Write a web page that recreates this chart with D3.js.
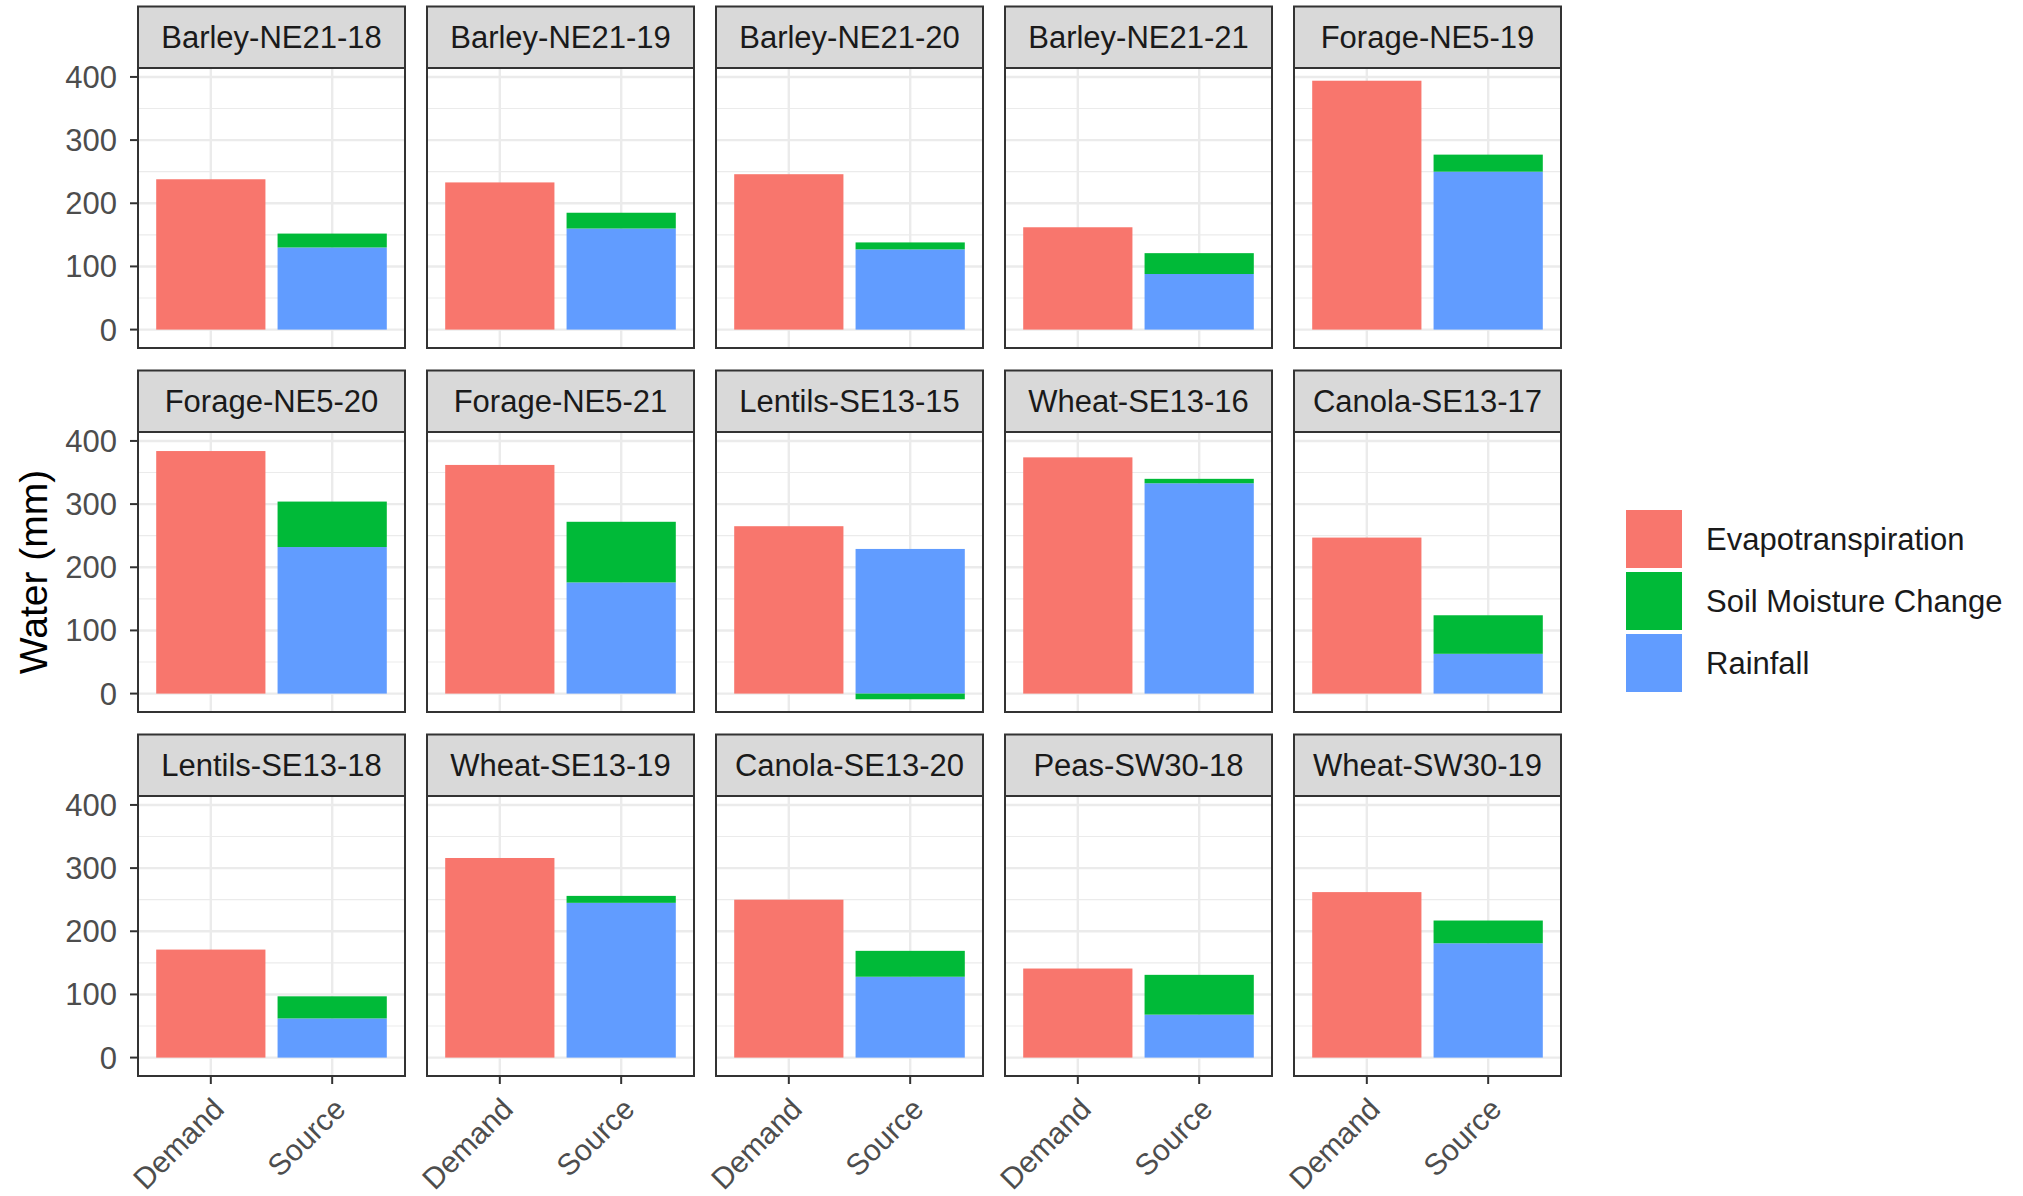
<!DOCTYPE html>
<html>
<head>
<meta charset="utf-8">
<script src="https://cdn.jsdelivr.net/npm/d3@7"></script>
<style>
  html, body { margin: 0; padding: 0; background: #fff; }
  svg { display: block; font-family: "Liberation Sans", Arial, sans-serif; }
</style>
</head>
<body>
<svg id="chart" width="2023" height="1196"></svg>
<script>
// Site-season facets, in facet_wrap order (5 columns x 3 rows)
const facets = [
  "Barley-NE21-18", "Barley-NE21-19", "Barley-NE21-20", "Barley-NE21-21", "Forage-NE5-19",
  "Forage-NE5-20", "Forage-NE5-21", "Lentils-SE13-15", "Wheat-SE13-16", "Canola-SE13-17",
  "Lentils-SE13-18", "Wheat-SE13-19", "Canola-SE13-20", "Peas-SW30-18", "Wheat-SW30-19"
];
// Water demand (mm)
const evapotranspiration = [238, 233, 246, 162, 394, 384, 362, 265, 374, 247, 171, 316, 250, 141, 262];
// Water sources (mm)
const rainfall          = [130, 160, 127,  88, 250, 232, 176, 229, 333,  63,  62, 245, 128,  68, 181];
const soilMoistureChange = [22,  25,  11,  33,  27,  72,  96,  -9,   7,  61,  35,  11,  41,  63,  36];

const xCategories = ["Demand", "Source"];
const seriesNames = ["Evapotranspiration", "Soil Moisture Change", "Rainfall"];
const seriesColors = ["#F8766D", "#00BA38", "#619CFF"];
const yTicks = [0, 100, 200, 300, 400];
const yMinorTicks = [50, 150, 250, 350];
const yTitle = "Water (mm)";

// ---- layout ----
const nCols = 5;
const panelW = 267, panelH = 280;
const colStep = 289, rowStep = 364;
const left0 = 138, top0 = 6.5;
const stripH = 61.5;

const svg = d3.select("#chart");
const color = d3.scaleOrdinal().domain(seriesNames).range(seriesColors);

// shared y limits with 5% expansion on each side
const allVals = [];
facets.forEach((f, i) => {
  allVals.push(evapotranspiration[i]);
  allVals.push(rainfall[i] + Math.max(0, soilMoistureChange[i]));
  allVals.push(Math.min(0, soilMoistureChange[i]));
  allVals.push(0);
});
const yLo = d3.min(allVals), yHi = d3.max(allVals);
const pad = (yHi - yLo) * 0.05;

// discrete x: 0.6 units of expansion on each side of the 2 categories
const xScale = d3.scalePoint().domain(xCategories).range([0.6 / 2.2 * panelW, 1.6 / 2.2 * panelW]);
const barW = 0.9 / 2.2 * panelW;

const grey20 = "#333333";

facets.forEach((name, i) => {
  const col = i % nCols, row = Math.floor(i / nCols);
  const px = left0 + col * colStep;
  const stripTop = top0 + row * rowStep;
  const py = stripTop + stripH;
  const nRows = Math.ceil(facets.length / nCols);

  const y = d3.scaleLinear().domain([yLo - pad, yHi + pad]).range([panelH, 0]);

  const g = svg.append("g").attr("transform", `translate(${px},${py})`);

  // background + grid
  g.append("rect").attr("width", panelW).attr("height", panelH).attr("fill", "#fff");
  g.selectAll("line.minor").data(yMinorTicks).join("line")
    .attr("x1", 0).attr("x2", panelW)
    .attr("y1", d => y(d)).attr("y2", d => y(d))
    .attr("stroke", "#EBEBEB").attr("stroke-width", 1.2);
  g.selectAll("line.majory").data(yTicks).join("line")
    .attr("x1", 0).attr("x2", panelW)
    .attr("y1", d => y(d)).attr("y2", d => y(d))
    .attr("stroke", "#EBEBEB").attr("stroke-width", 2.4);
  g.selectAll("line.majorx").data(xCategories).join("line")
    .attr("x1", d => xScale(d)).attr("x2", d => xScale(d))
    .attr("y1", 0).attr("y2", panelH)
    .attr("stroke", "#EBEBEB").attr("stroke-width", 2.4);

  // bars: demand = ET; source = rainfall (bottom) + soil moisture change (top / below zero if negative)
  const segs = [];
  segs.push({ cat: "Demand", s: "Evapotranspiration", y0: 0, y1: evapotranspiration[i] });
  segs.push({ cat: "Source", s: "Rainfall", y0: 0, y1: rainfall[i] });
  const smc = soilMoistureChange[i];
  if (smc >= 0) segs.push({ cat: "Source", s: "Soil Moisture Change", y0: rainfall[i], y1: rainfall[i] + smc });
  else segs.push({ cat: "Source", s: "Soil Moisture Change", y0: smc, y1: 0 });

  g.selectAll("rect.bar").data(segs).join("rect")
    .attr("class", "bar")
    .attr("x", d => xScale(d.cat) - barW / 2)
    .attr("width", barW)
    .attr("y", d => y(Math.max(d.y0, d.y1)))
    .attr("height", d => Math.abs(y(d.y0) - y(d.y1)))
    .attr("fill", d => color(d.s));

  // panel border
  g.append("rect").attr("width", panelW).attr("height", panelH)
    .attr("fill", "none").attr("stroke", grey20).attr("stroke-width", 2);

  // strip
  const s = svg.append("g").attr("transform", `translate(${px},${stripTop})`);
  s.append("rect").attr("width", panelW).attr("height", stripH)
    .attr("fill", "#D9D9D9").attr("stroke", grey20).attr("stroke-width", 2);
  s.append("text").attr("x", panelW / 2).attr("y", stripH / 2 + 11)
    .attr("text-anchor", "middle").attr("font-size", 31).attr("fill", "#1A1A1A")
    .text(name);

  // y axis on first column
  if (col === 0) {
    const ax = g.append("g");
    ax.selectAll("line").data(yTicks).join("line")
      .attr("x1", -8).attr("x2", 0)
      .attr("y1", d => y(d)).attr("y2", d => y(d))
      .attr("stroke", grey20).attr("stroke-width", 2);
    ax.selectAll("text").data(yTicks).join("text")
      .attr("x", -21).attr("y", d => y(d) + 11)
      .attr("text-anchor", "end").attr("font-size", 31).attr("fill", "#4D4D4D")
      .text(d => d);
  }

  // x axis on bottom row
  if (row === nRows - 1) {
    const ax = g.append("g").attr("transform", `translate(0,${panelH})`);
    ax.selectAll("line").data(xCategories).join("line")
      .attr("x1", d => xScale(d)).attr("x2", d => xScale(d))
      .attr("y1", 0).attr("y2", 8)
      .attr("stroke", grey20).attr("stroke-width", 2);
    ax.selectAll("text").data(xCategories).join("text")
      .attr("transform", d => `translate(${xScale(d) + 15},${35}) rotate(-45)`)
      .attr("text-anchor", "end").attr("font-size", 30).attr("fill", "#4D4D4D")
      .text(d => d);
  }
});

// y axis title
const panelsTop = top0 + stripH;
const panelsBottom = top0 + 2 * rowStep + stripH + panelH;
svg.append("text")
  .attr("transform", `translate(47,${(panelsTop + panelsBottom) / 2}) rotate(-90)`)
  .attr("text-anchor", "middle").attr("font-size", 39).attr("fill", "#000")
  .text(yTitle);

// legend
const legX = 1626, legY = 510, keyW = 56, keyH = 58, keyGap = 4;
const leg = svg.append("g").attr("transform", `translate(${legX},${legY})`);
seriesNames.forEach((n, k) => {
  leg.append("rect").attr("x", 0).attr("y", k * (keyH + keyGap))
    .attr("width", keyW).attr("height", keyH).attr("fill", color(n));
  leg.append("text").attr("x", 80).attr("y", k * (keyH + keyGap) + keyH / 2 + 11)
    .attr("font-size", 31).attr("fill", "#1A1A1A").text(n);
});
</script>
</body>
</html>
